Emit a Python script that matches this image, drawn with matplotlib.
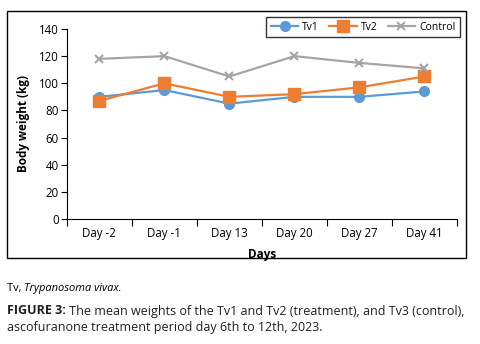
import matplotlib
matplotlib.use("Agg")
import matplotlib.pyplot as plt
from matplotlib.patches import Rectangle

days = ["Day -2", "Day -1", "Day 13", "Day 20", "Day 27", "Day 41"]
tv1 = [90, 95, 85, 90, 90, 94]
tv2 = [87, 100, 90, 92, 97, 105]
control = [118, 120, 105, 120, 115, 111]

plt.rcParams['font.family'] = ['Open Sans', 'DejaVu Sans']

fig = plt.figure(figsize=(4.81, 3.44), dpi=100)
ax = fig.add_axes([0.139, 0.3634, 0.811, 0.5523])

# outer frame around chart
fig.patches.append(Rectangle((7 / 481, 1 - 258 / 344), 459 / 481, 247 / 344,
                             transform=fig.transFigure, fill=False,
                             edgecolor='black', linewidth=1.0))

x = range(len(days))
ax.plot(x, tv1, color='#5B9BD5', marker='o', markersize=7, linewidth=1.6, label='Tv1')
ax.plot(x, tv2, color='#ED7D31', marker='s', markersize=8, linewidth=1.6, label='Tv2')
ax.plot(x, control, color='#A5A5A5', marker='x', markersize=6, markeredgewidth=1.5,
        linewidth=1.6, label='Control')

ax.set_xlim(-0.5, len(days) - 0.5)
ax.set_ylim(0, 140)
ax.set_yticks(range(0, 141, 20))
ax.set_xticks([i - 0.5 for i in range(len(days) + 1)])
ax.set_xticklabels([])
ax.set_xticks(list(x), minor=True)
ax.set_xticklabels(days, minor=True)
ax.tick_params(axis='x', which='minor', length=0, pad=6, labelsize=8.3)
ax.tick_params(axis='x', which='major', length=5, width=0.8)
ax.tick_params(axis='y', length=4, width=0.8, labelsize=8.3, pad=2)

for s in ['top', 'right']:
    ax.spines[s].set_visible(False)

ax.set_xlabel('Days', fontsize=8.5, fontweight='bold', labelpad=5.5)
ax.set_ylabel('Body weight (kg)', fontsize=8.5, fontweight='bold', labelpad=6)

leg = ax.legend(loc='upper right', bbox_to_anchor=(1.008, 1.063), ncol=3, fontsize=7.5,
                frameon=True, fancybox=False, edgecolor='black', handlelength=2.6,
                columnspacing=1.0, borderpad=0.45, handletextpad=0.4, borderaxespad=0)
leg.get_frame().set_linewidth(1.0)

# captions
fig.canvas.draw()
r = fig.canvas.get_renderer()
t1 = fig.text(7 / 481, 1 - 288 / 344, 'Tv, ', fontsize=8, va='center', ha='left')
bb = t1.get_window_extent(r)
fig.text(bb.x1 / fig.bbox.width, 1 - 288 / 344, 'Trypanosoma vivax.', fontsize=8,
         style='italic', va='center', ha='left')

t2 = fig.text(7 / 481, 1 - 311 / 344, 'FIGURE 3:', fontsize=9.0, fontweight='bold',
              color='#231F20', va='center', ha='left')
bb = t2.get_window_extent(r)
fig.text(bb.x1 / fig.bbox.width, 1 - 311 / 344,
         ' The mean weights of the Tv1 and Tv2 (treatment), and Tv3 (control),',
         fontsize=9.0, color='#231F20', va='center', ha='left')
fig.text(7 / 481, 1 - 327 / 344, 'ascofuranone treatment period day 6th to 12th, 2023.',
         fontsize=9.0, color='#231F20', va='center', ha='left')

fig.savefig('out.png', dpi=100)
